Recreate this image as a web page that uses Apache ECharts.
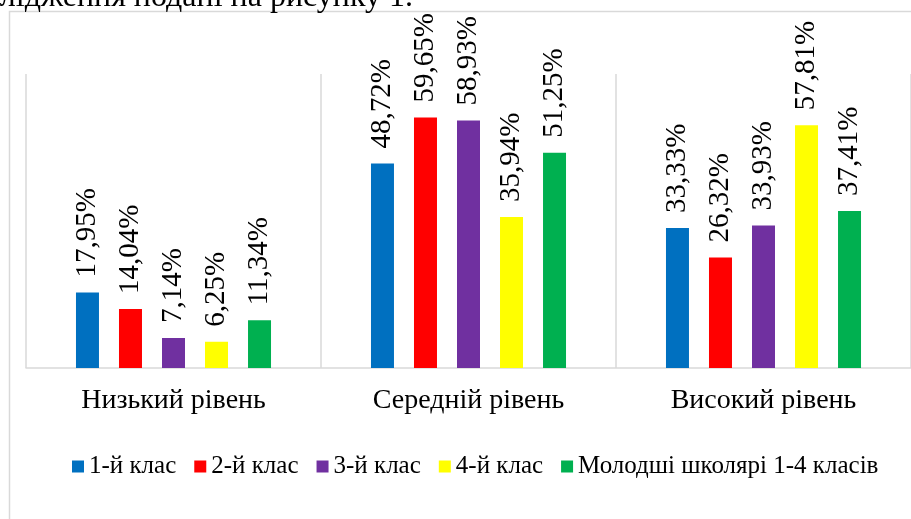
<!DOCTYPE html>
<html>
<head>
<meta charset="utf-8">
<script src="https://cdn.jsdelivr.net/npm/echarts@6/dist/echarts.min.js"></script>
<style>
  html, body { margin: 0; padding: 0; background: #fff; }
  #chart { width: 911px; height: 519px; }
</style>
</head>
<body>
<div id="chart"></div>
<script>
  // рівні (категорії)
  const levels = ['Низький рівень', 'Середній рівень', 'Високий рівень'];
  // класи (серії)
  const classNames = ['1-й клас', '2-й клас', '3-й клас', '4-й клас', 'Молодші школярі 1-4 класів'];
  const class1 = [17.95, 48.72, 33.33];
  const class2 = [14.04, 59.65, 26.32];
  const class3 = [7.14, 58.93, 33.93];
  const class4 = [6.25, 35.94, 57.81];
  const allPupils = [11.34, 51.25, 37.41];
  const colors = ['#0070C0', '#FF0000', '#7030A0', '#FFFF00', '#00B050'];

  const seriesData = [class1, class2, class3, class4, allPupils];
  const serif = '"Liberation Serif", "Times New Roman", serif';

  let myChart = echarts.init(document.getElementById('chart'));

  myChart.setOption({
    animation: false,
    color: colors,
    // рамка діаграми та обрізаний рядок тексту над нею
    graphic: [
      {
        type: 'rect',
        shape: { x: 9.5, y: 11.5, width: 960, height: 560 },
        style: { fill: 'none', stroke: '#d9d9d9', lineWidth: 1.5 },
        silent: true
      },
      {
        type: 'text',
        style: {
          x: 413, y: -2,
          text: 'дослідження подані на рисунку 1.',
          font: '32px ' + serif,
          fill: '#000',
          align: 'right',
          verticalAlign: 'middle'
        },
        silent: true
      }
    ],
    grid: { left: 26, right: 0, top: 74, bottom: 151 },
    legend: {
      data: classNames,
      left: 72,
      top: 454,
      padding: 0,
      icon: 'rect',
      itemWidth: 12,
      itemHeight: 12,
      itemGap: 18,
      textStyle: { fontFamily: serif, fontSize: 25, color: '#000' }
    },
    xAxis: {
      type: 'category',
      data: levels,
      axisLine: { lineStyle: { color: '#d9d9d9', width: 1.5 } },
      axisTick: { show: false },
      splitLine: { show: true, lineStyle: { color: '#d9d9d9', width: 1.5 } },
      axisLabel: { fontFamily: serif, fontSize: 28, color: '#000', margin: 19 }
    },
    yAxis: {
      type: 'value',
      min: 0,
      max: 70,
      show: false
    },
    series: seriesData.map(function (values, i) {
      return {
        name: classNames[i],
        type: 'bar',
        data: values,
        barWidth: 23,
        barGap: '87%',
        itemStyle: { color: colors[i] },
        label: {
          show: true,
          position: 'top',
          rotate: 90,
          align: 'left',
          verticalAlign: 'middle',
          distance: 15,
          fontFamily: serif,
          fontSize: 29,
          color: '#000',
          formatter: function (p) {
            return p.value.toFixed(2).replace('.', ',') + '%';
          }
        }
      };
    })
  });
</script>
</body>
</html>
